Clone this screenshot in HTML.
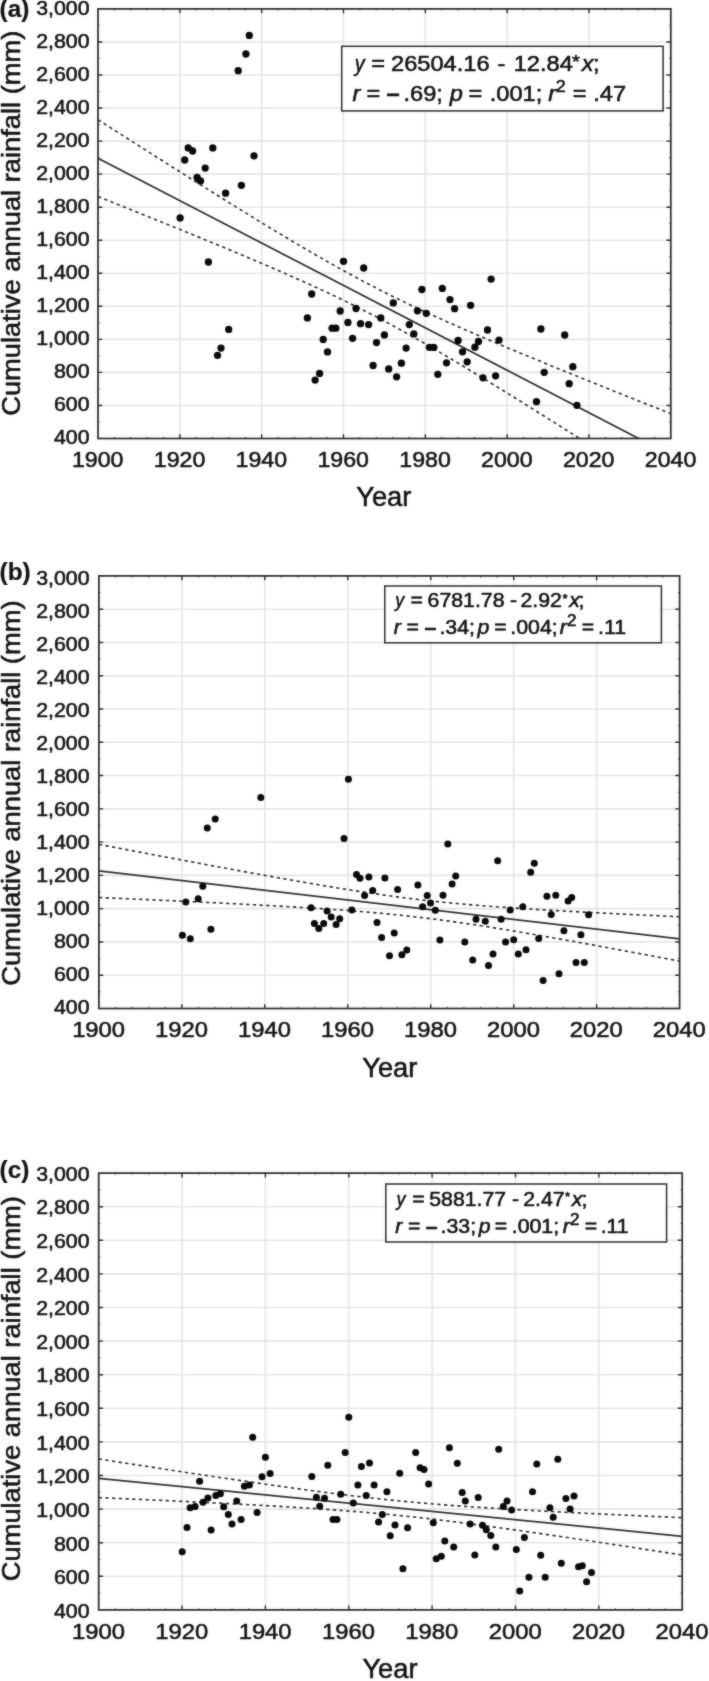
<!DOCTYPE html>
<html lang="en"><head><meta charset="utf-8"><title>Cumulative annual rainfall</title>
<style>html,body{margin:0;padding:0;background:#fff}svg{display:block}</style>
</head><body>
<svg width="709" height="1681" viewBox="0 0 709 1681" font-family="'Liberation Sans', sans-serif"><style>text{stroke:#111;stroke-width:.55px;stroke-linejoin:round}</style>
<rect width="709" height="1681" fill="#fff"/>
<filter id="soft" x="0" y="0" width="100%" height="100%" filterUnits="userSpaceOnUse" color-interpolation-filters="sRGB"><feGaussianBlur in="SourceGraphic" stdDeviation="0.8" result="b"/><feComposite in="SourceGraphic" in2="b" operator="arithmetic" k1="0" k2="0.6" k3="0.4" k4="0"/></filter>
<g filter="url(#soft)">
<path d="M179.83 8.9V438.5M261.66 8.9V438.5M343.49 8.9V438.5M425.31 8.9V438.5M507.14 8.9V438.5M588.97 8.9V438.5M98 405.45H670.8M98 372.41H670.8M98 339.36H670.8M98 306.32H670.8M98 273.27H670.8M98 240.22H670.8M98 207.18H670.8M98 174.13H670.8M98 141.08H670.8M98 108.04H670.8M98 74.99H670.8M98 41.95H670.8" stroke="#e5e5e5" stroke-width="1.6" fill="none"/>
<clipPath id="ca"><rect x="98" y="8.9" width="572.8" height="429.6"/></clipPath>
<g clip-path="url(#ca)" fill="none" stroke="#2e2e2e">
<path d="M98 158.16L670.8 455.18" stroke-width="1.75"/>
<path d="M98 119.7L107.55 125.8L117.09 131.9L126.64 137.99L136.19 144.07L145.73 150.14L155.28 156.2L164.83 162.25L174.37 168.29L183.92 174.32L193.47 180.34L203.01 186.33L212.56 192.32L222.11 198.28L231.65 204.22L241.2 210.13L250.75 216.01L260.29 221.87L269.84 227.68L279.39 233.45L288.93 239.18L298.48 244.84L308.03 250.45L317.57 255.99L327.12 261.45L336.67 266.82L346.21 272.1L355.76 277.28L365.31 282.36L374.85 287.33L384.4 292.2L393.95 296.96L403.49 301.62L413.04 306.18L422.59 310.65L432.13 315.05L441.68 319.37L451.23 323.62L460.77 327.82L470.32 331.97L479.87 336.07L489.41 340.13L498.96 344.16L508.51 348.16L518.05 352.13L527.6 356.08L537.15 360.01L546.69 363.91L556.24 367.81L565.79 371.68L575.33 375.55L584.88 379.4L594.43 383.24L603.97 387.08L613.52 390.9L623.07 394.72L632.61 398.53L642.16 402.33L651.71 406.13L661.25 409.92L670.8 413.7" stroke-width="1.65" stroke-dasharray="3.3 3.4"/>
<path d="M98 196.61L107.55 200.41L117.09 204.22L126.64 208.03L136.19 211.86L145.73 215.69L155.28 219.52L164.83 223.37L174.37 227.23L183.92 231.1L193.47 234.99L203.01 238.89L212.56 242.81L222.11 246.75L231.65 250.71L241.2 254.7L250.75 258.71L260.29 262.76L269.84 266.85L279.39 270.98L288.93 275.16L298.48 279.39L308.03 283.68L317.57 288.05L327.12 292.49L336.67 297.01L346.21 301.63L355.76 306.35L365.31 311.17L374.85 316.1L384.4 321.14L393.95 326.28L403.49 331.52L413.04 336.86L422.59 342.29L432.13 347.8L441.68 353.37L451.23 359.02L460.77 364.72L470.32 370.48L479.87 376.27L489.41 382.11L498.96 387.98L508.51 393.89L518.05 399.82L527.6 405.77L537.15 411.74L546.69 417.73L556.24 423.74L565.79 429.77L575.33 435.8L584.88 441.85L594.43 447.91L603.97 453.98L613.52 460.05L623.07 466.14L632.61 472.23L642.16 478.33L651.71 484.43L661.25 490.54L670.8 496.65" stroke-width="1.65" stroke-dasharray="3.3 3.4"/>
</g>
<path d="M179.83 438.5v-4.3M179.83 8.9v4.3M261.66 438.5v-4.3M261.66 8.9v4.3M343.49 438.5v-4.3M343.49 8.9v4.3M425.31 438.5v-4.3M425.31 8.9v4.3M507.14 438.5v-4.3M507.14 8.9v4.3M588.97 438.5v-4.3M588.97 8.9v4.3M98 405.45h4.3M670.8 405.45h-4.3M98 372.41h4.3M670.8 372.41h-4.3M98 339.36h4.3M670.8 339.36h-4.3M98 306.32h4.3M670.8 306.32h-4.3M98 273.27h4.3M670.8 273.27h-4.3M98 240.22h4.3M670.8 240.22h-4.3M98 207.18h4.3M670.8 207.18h-4.3M98 174.13h4.3M670.8 174.13h-4.3M98 141.08h4.3M670.8 141.08h-4.3M98 108.04h4.3M670.8 108.04h-4.3M98 74.99h4.3M670.8 74.99h-4.3M98 41.95h4.3M670.8 41.95h-4.3" stroke="#2a2a2a" stroke-width="1.4" fill="none"/>
<path d="M114.37 438.5v-1.6M114.37 8.9v1.6M130.73 438.5v-1.6M130.73 8.9v1.6M147.1 438.5v-1.6M147.1 8.9v1.6M163.46 438.5v-1.6M163.46 8.9v1.6M196.19 438.5v-1.6M196.19 8.9v1.6M212.56 438.5v-1.6M212.56 8.9v1.6M228.93 438.5v-1.6M228.93 8.9v1.6M245.29 438.5v-1.6M245.29 8.9v1.6M278.02 438.5v-1.6M278.02 8.9v1.6M294.39 438.5v-1.6M294.39 8.9v1.6M310.75 438.5v-1.6M310.75 8.9v1.6M327.12 438.5v-1.6M327.12 8.9v1.6M359.85 438.5v-1.6M359.85 8.9v1.6M376.22 438.5v-1.6M376.22 8.9v1.6M392.58 438.5v-1.6M392.58 8.9v1.6M408.95 438.5v-1.6M408.95 8.9v1.6M441.68 438.5v-1.6M441.68 8.9v1.6M458.05 438.5v-1.6M458.05 8.9v1.6M474.41 438.5v-1.6M474.41 8.9v1.6M490.78 438.5v-1.6M490.78 8.9v1.6M523.51 438.5v-1.6M523.51 8.9v1.6M539.87 438.5v-1.6M539.87 8.9v1.6M556.24 438.5v-1.6M556.24 8.9v1.6M572.61 438.5v-1.6M572.61 8.9v1.6M605.34 438.5v-1.6M605.34 8.9v1.6M621.7 438.5v-1.6M621.7 8.9v1.6M638.07 438.5v-1.6M638.07 8.9v1.6M654.43 438.5v-1.6M654.43 8.9v1.6M98 421.98h1.6M670.8 421.98h-1.6M98 388.93h1.6M670.8 388.93h-1.6M98 355.88h1.6M670.8 355.88h-1.6M98 322.84h1.6M670.8 322.84h-1.6M98 289.79h1.6M670.8 289.79h-1.6M98 256.75h1.6M670.8 256.75h-1.6M98 223.7h1.6M670.8 223.7h-1.6M98 190.65h1.6M670.8 190.65h-1.6M98 157.61h1.6M670.8 157.61h-1.6M98 124.56h1.6M670.8 124.56h-1.6M98 91.52h1.6M670.8 91.52h-1.6M98 58.47h1.6M670.8 58.47h-1.6M98 25.42h1.6M670.8 25.42h-1.6" stroke="#3a3a3a" stroke-width="1" fill="none"/>
<rect x="98" y="8.9" width="572.8" height="429.6" fill="none" stroke="#2c2c2c" stroke-width="1.75"/>
<g fill="#080808"><circle cx="180.1" cy="217.9" r="3.65"/><circle cx="184.7" cy="160" r="3.65"/><circle cx="188.2" cy="147.9" r="3.65"/><circle cx="192.6" cy="151" r="3.65"/><circle cx="197.1" cy="177.4" r="3.65"/><circle cx="200.5" cy="180.9" r="3.65"/><circle cx="205.2" cy="168.1" r="3.65"/><circle cx="208.4" cy="262" r="3.65"/><circle cx="212.8" cy="147.9" r="3.65"/><circle cx="217.5" cy="355.3" r="3.65"/><circle cx="221" cy="348.1" r="3.65"/><circle cx="225.6" cy="193.2" r="3.65"/><circle cx="228.7" cy="329.4" r="3.65"/><circle cx="238.2" cy="70.7" r="3.65"/><circle cx="241.4" cy="185.3" r="3.65"/><circle cx="245.9" cy="54" r="3.65"/><circle cx="249.3" cy="35.4" r="3.65"/><circle cx="254" cy="155.8" r="3.65"/><circle cx="343.5" cy="261.3" r="3.65"/><circle cx="363.7" cy="268" r="3.65"/><circle cx="311.7" cy="294" r="3.65"/><circle cx="307.4" cy="317.9" r="3.65"/><circle cx="340.2" cy="311" r="3.65"/><circle cx="356" cy="308.5" r="3.65"/><circle cx="347.9" cy="322.5" r="3.65"/><circle cx="360.5" cy="323.7" r="3.65"/><circle cx="368.6" cy="324.6" r="3.65"/><circle cx="332.1" cy="328.2" r="3.65"/><circle cx="335.8" cy="328.2" r="3.65"/><circle cx="323.2" cy="339.5" r="3.65"/><circle cx="352.6" cy="338.3" r="3.65"/><circle cx="327.5" cy="351.9" r="3.65"/><circle cx="319.6" cy="373.4" r="3.65"/><circle cx="315.1" cy="380.1" r="3.65"/><circle cx="380.8" cy="317.9" r="3.65"/><circle cx="384.4" cy="334.9" r="3.65"/><circle cx="376.5" cy="342.6" r="3.65"/><circle cx="373.1" cy="365.5" r="3.65"/><circle cx="388.7" cy="368.9" r="3.65"/><circle cx="396.6" cy="376.8" r="3.65"/><circle cx="401.4" cy="363.2" r="3.65"/><circle cx="406.1" cy="348.1" r="3.65"/><circle cx="413.8" cy="333.9" r="3.65"/><circle cx="409.3" cy="324.6" r="3.65"/><circle cx="393.3" cy="302.9" r="3.65"/><circle cx="417.4" cy="310.8" r="3.65"/><circle cx="421.9" cy="289.5" r="3.65"/><circle cx="426.3" cy="313.3" r="3.65"/><circle cx="429.4" cy="347.3" r="3.65"/><circle cx="442.3" cy="288.4" r="3.65"/><circle cx="450" cy="299.6" r="3.65"/><circle cx="454.6" cy="308.7" r="3.65"/><circle cx="470.6" cy="305.3" r="3.65"/><circle cx="491.1" cy="279.1" r="3.65"/><circle cx="487.5" cy="330" r="3.65"/><circle cx="499" cy="340.1" r="3.65"/><circle cx="458.1" cy="340.5" r="3.65"/><circle cx="478.5" cy="341.5" r="3.65"/><circle cx="474.9" cy="347.2" r="3.65"/><circle cx="433.8" cy="347.4" r="3.65"/><circle cx="462.5" cy="351.8" r="3.65"/><circle cx="467.2" cy="361.8" r="3.65"/><circle cx="446.5" cy="362.8" r="3.65"/><circle cx="437.8" cy="374.3" r="3.65"/><circle cx="483" cy="377.8" r="3.65"/><circle cx="495.6" cy="375.8" r="3.65"/><circle cx="540.9" cy="329" r="3.65"/><circle cx="544.2" cy="372.3" r="3.65"/><circle cx="536.5" cy="401.7" r="3.65"/><circle cx="564.7" cy="335" r="3.65"/><circle cx="572.8" cy="366.7" r="3.65"/><circle cx="569.2" cy="383.7" r="3.65"/><circle cx="576.9" cy="405.3" r="3.65"/></g>
<g font-size="20.0" text-anchor="end" fill="#111">
<text transform="translate(89.5 444.4) scale(1.065 1)">400</text>
<text transform="translate(89.5 410.6) scale(1.065 1)">600</text>
<text transform="translate(89.5 377.65) scale(1.065 1)">800</text>
<text transform="translate(89.5 344.7) scale(1.065 1)">1,000</text>
<text transform="translate(89.5 311.75) scale(1.065 1)">1,200</text>
<text transform="translate(89.5 278.8) scale(1.065 1)">1,400</text>
<text transform="translate(89.5 245.85) scale(1.065 1)">1,600</text>
<text transform="translate(89.5 212.9) scale(1.065 1)">1,800</text>
<text transform="translate(89.5 179.95) scale(1.065 1)">2,000</text>
<text transform="translate(89.5 147) scale(1.065 1)">2,200</text>
<text transform="translate(89.5 114.05) scale(1.065 1)">2,400</text>
<text transform="translate(89.5 81.1) scale(1.065 1)">2,600</text>
<text transform="translate(89.5 48.15) scale(1.065 1)">2,800</text>
<text transform="translate(89.5 15.2) scale(1.065 1)">3,000</text>
</g>
<g font-size="22.6" text-anchor="middle" fill="#111">
<text transform="translate(97.7 466.7) scale(1.025 1)">1900</text>
<text transform="translate(179.53 466.7) scale(1.025 1)">1920</text>
<text transform="translate(261.36 466.7) scale(1.025 1)">1940</text>
<text transform="translate(343.19 466.7) scale(1.025 1)">1960</text>
<text transform="translate(425.01 466.7) scale(1.025 1)">1980</text>
<text transform="translate(506.84 466.7) scale(1.025 1)">2000</text>
<text transform="translate(588.67 466.7) scale(1.025 1)">2020</text>
<text transform="translate(670.5 466.7) scale(1.025 1)">2040</text>
</g>
<text x="383.8" y="506.4" font-size="27.3" text-anchor="middle" fill="#111">Year</text>
<text transform="translate(20.3 223.25) rotate(-90) scale(1.054 1)" font-size="25.9" text-anchor="middle" fill="#111">Cumulative annual rainfall (mm)</text>
<text transform="translate(-0.4 16.9) scale(1.06 1)" font-size="23" font-weight="bold" fill="#111" style="stroke-width:.2px">(a)</text>
<rect x="341.7" y="46.3" width="321.4" height="64.6" fill="#fff" stroke="#2a2a2a" stroke-width="1.5"/>
<g font-size="22" fill="#111">
<text transform="translate(354.82 70.5) scale(0.9 1)" font-style="italic">y</text>
<text transform="translate(371.35 70.5) scale(1.075 1)">=</text>
<text transform="translate(391.01 70.5) scale(1.075 1)">26504.16</text>
<text transform="translate(497.55 70.5) scale(1.075 1)">-</text>
<text transform="translate(513.7 70.5) scale(1.075 1)">12.84</text>
<text transform="translate(571.88 68.45) scale(1.075 1)" font-size="18.7">*</text>
<text transform="translate(581.85 70.5) scale(1.075 1)" font-style="italic">x</text>
<text transform="translate(592.88 70.5) scale(1.075 1)">;</text>
<text transform="translate(352.41 100.5) scale(1.075 1)" font-style="italic">r</text>
<text transform="translate(366.45 100.5) scale(1.075 1)">=</text>
<text transform="translate(386.58 100.5) scale(1.075 1)" font-weight="bold">–</text>
<text transform="translate(403.44 100.5) scale(1.075 1)">.69;</text>
<text transform="translate(449.79 100.5) scale(1.075 1)" font-style="italic">p</text>
<text transform="translate(468.45 100.5) scale(1.075 1)">=</text>
<text transform="translate(489.74 100.5) scale(1.075 1)">.001;</text>
<text transform="translate(548.31 100.5) scale(1.075 1)" font-style="italic">r</text>
<text transform="translate(555.7 91.92) scale(1.075 1)" font-size="16.72">2</text>
<text transform="translate(572.75 100.5) scale(1.075 1)">=</text>
<text transform="translate(593.24 100.5) scale(1.075 1)">.47</text>
</g>
<path d="M181.86 575.9V1008.5M264.81 575.9V1008.5M347.77 575.9V1008.5M430.73 575.9V1008.5M513.69 575.9V1008.5M596.64 575.9V1008.5M98.9 975.22H679.6M98.9 941.95H679.6M98.9 908.67H679.6M98.9 875.39H679.6M98.9 842.12H679.6M98.9 808.84H679.6M98.9 775.56H679.6M98.9 742.28H679.6M98.9 709.01H679.6M98.9 675.73H679.6M98.9 642.45H679.6M98.9 609.18H679.6" stroke="#e5e5e5" stroke-width="1.6" fill="none"/>
<clipPath id="cb"><rect x="98.9" y="575.9" width="580.7" height="432.6"/></clipPath>
<g clip-path="url(#cb)" fill="none" stroke="#2e2e2e">
<path d="M98.9 870.92L679.6 938.94" stroke-width="1.75"/>
<path d="M98.9 844.33L108.58 846.18L118.26 848.02L127.94 849.86L137.61 851.7L147.29 853.53L156.97 855.37L166.65 857.19L176.33 859.02L186 860.83L195.68 862.65L205.36 864.45L215.04 866.25L224.72 868.04L234.4 869.83L244.08 871.6L253.75 873.37L263.43 875.12L273.11 876.86L282.79 878.59L292.47 880.3L302.14 881.99L311.82 883.65L321.5 885.3L331.18 886.91L340.86 888.49L350.54 890.04L360.22 891.55L369.89 893.01L379.57 894.42L389.25 895.78L398.93 897.08L408.61 898.32L418.29 899.49L427.96 900.6L437.64 901.64L447.32 902.62L457 903.55L466.68 904.42L476.36 905.23L486.03 906L495.71 906.73L505.39 907.42L515.07 908.08L524.75 908.71L534.43 909.32L544.1 909.9L553.78 910.46L563.46 911.01L573.14 911.54L582.82 912.06L592.5 912.56L602.17 913.06L611.85 913.54L621.53 914.02L631.21 914.49L640.89 914.95L650.57 915.41L660.24 915.86L669.92 916.3L679.6 916.74" stroke-width="1.65" stroke-dasharray="3.3 3.4"/>
<path d="M98.9 897.51L108.58 897.94L118.26 898.36L127.94 898.78L137.61 899.21L147.29 899.65L156.97 900.08L166.65 900.52L176.33 900.97L186 901.42L195.68 901.87L205.36 902.33L215.04 902.8L224.72 903.27L234.4 903.76L244.08 904.25L253.75 904.75L263.43 905.26L273.11 905.79L282.79 906.33L292.47 906.89L302.14 907.47L311.82 908.07L321.5 908.69L331.18 909.35L340.86 910.03L350.54 910.75L360.22 911.51L369.89 912.32L379.57 913.17L389.25 914.08L398.93 915.05L408.61 916.08L418.29 917.17L427.96 918.33L437.64 919.56L447.32 920.84L457 922.18L466.68 923.58L476.36 925.04L486.03 926.53L495.71 928.07L505.39 929.65L515.07 931.25L524.75 932.89L534.43 934.55L544.1 936.24L553.78 937.94L563.46 939.66L573.14 941.4L582.82 943.15L592.5 944.91L602.17 946.69L611.85 948.47L621.53 950.26L631.21 952.06L640.89 953.86L650.57 955.67L660.24 957.49L669.92 959.31L679.6 961.14" stroke-width="1.65" stroke-dasharray="3.3 3.4"/>
</g>
<path d="M181.86 1008.5v-4.3M181.86 575.9v4.3M264.81 1008.5v-4.3M264.81 575.9v4.3M347.77 1008.5v-4.3M347.77 575.9v4.3M430.73 1008.5v-4.3M430.73 575.9v4.3M513.69 1008.5v-4.3M513.69 575.9v4.3M596.64 1008.5v-4.3M596.64 575.9v4.3M98.9 975.22h4.3M679.6 975.22h-4.3M98.9 941.95h4.3M679.6 941.95h-4.3M98.9 908.67h4.3M679.6 908.67h-4.3M98.9 875.39h4.3M679.6 875.39h-4.3M98.9 842.12h4.3M679.6 842.12h-4.3M98.9 808.84h4.3M679.6 808.84h-4.3M98.9 775.56h4.3M679.6 775.56h-4.3M98.9 742.28h4.3M679.6 742.28h-4.3M98.9 709.01h4.3M679.6 709.01h-4.3M98.9 675.73h4.3M679.6 675.73h-4.3M98.9 642.45h4.3M679.6 642.45h-4.3M98.9 609.18h4.3M679.6 609.18h-4.3" stroke="#2a2a2a" stroke-width="1.4" fill="none"/>
<path d="M115.49 1008.5v-1.6M115.49 575.9v1.6M132.08 1008.5v-1.6M132.08 575.9v1.6M148.67 1008.5v-1.6M148.67 575.9v1.6M165.27 1008.5v-1.6M165.27 575.9v1.6M198.45 1008.5v-1.6M198.45 575.9v1.6M215.04 1008.5v-1.6M215.04 575.9v1.6M231.63 1008.5v-1.6M231.63 575.9v1.6M248.22 1008.5v-1.6M248.22 575.9v1.6M281.41 1008.5v-1.6M281.41 575.9v1.6M298 1008.5v-1.6M298 575.9v1.6M314.59 1008.5v-1.6M314.59 575.9v1.6M331.18 1008.5v-1.6M331.18 575.9v1.6M364.36 1008.5v-1.6M364.36 575.9v1.6M380.95 1008.5v-1.6M380.95 575.9v1.6M397.55 1008.5v-1.6M397.55 575.9v1.6M414.14 1008.5v-1.6M414.14 575.9v1.6M447.32 1008.5v-1.6M447.32 575.9v1.6M463.91 1008.5v-1.6M463.91 575.9v1.6M480.5 1008.5v-1.6M480.5 575.9v1.6M497.09 1008.5v-1.6M497.09 575.9v1.6M530.28 1008.5v-1.6M530.28 575.9v1.6M546.87 1008.5v-1.6M546.87 575.9v1.6M563.46 1008.5v-1.6M563.46 575.9v1.6M580.05 1008.5v-1.6M580.05 575.9v1.6M613.23 1008.5v-1.6M613.23 575.9v1.6M629.83 1008.5v-1.6M629.83 575.9v1.6M646.42 1008.5v-1.6M646.42 575.9v1.6M663.01 1008.5v-1.6M663.01 575.9v1.6M98.9 991.86h1.6M679.6 991.86h-1.6M98.9 958.58h1.6M679.6 958.58h-1.6M98.9 925.31h1.6M679.6 925.31h-1.6M98.9 892.03h1.6M679.6 892.03h-1.6M98.9 858.75h1.6M679.6 858.75h-1.6M98.9 825.48h1.6M679.6 825.48h-1.6M98.9 792.2h1.6M679.6 792.2h-1.6M98.9 758.92h1.6M679.6 758.92h-1.6M98.9 725.65h1.6M679.6 725.65h-1.6M98.9 692.37h1.6M679.6 692.37h-1.6M98.9 659.09h1.6M679.6 659.09h-1.6M98.9 625.82h1.6M679.6 625.82h-1.6M98.9 592.54h1.6M679.6 592.54h-1.6" stroke="#3a3a3a" stroke-width="1" fill="none"/>
<rect x="98.9" y="575.9" width="580.7" height="432.6" fill="none" stroke="#2c2c2c" stroke-width="1.75"/>
<g fill="#080808"><circle cx="182.4" cy="935.2" r="3.5"/><circle cx="185.8" cy="902.1" r="3.5"/><circle cx="190.3" cy="938.7" r="3.5"/><circle cx="198.2" cy="898.8" r="3.5"/><circle cx="202.8" cy="886.2" r="3.5"/><circle cx="207.3" cy="828" r="3.5"/><circle cx="210.9" cy="929.2" r="3.5"/><circle cx="215.2" cy="818.9" r="3.5"/><circle cx="260.8" cy="797.4" r="3.5"/><circle cx="348.4" cy="779.2" r="3.5"/><circle cx="344" cy="838.4" r="3.5"/><circle cx="356.5" cy="874.6" r="3.5"/><circle cx="360" cy="878.2" r="3.5"/><circle cx="368.9" cy="877.1" r="3.5"/><circle cx="384.9" cy="878.1" r="3.5"/><circle cx="417.9" cy="885" r="3.5"/><circle cx="372.7" cy="890.5" r="3.5"/><circle cx="397.6" cy="889.5" r="3.5"/><circle cx="364.6" cy="895.4" r="3.5"/><circle cx="427.2" cy="895.4" r="3.5"/><circle cx="430.5" cy="903" r="3.5"/><circle cx="422.6" cy="906.8" r="3.5"/><circle cx="435.3" cy="910.2" r="3.5"/><circle cx="311.1" cy="907.7" r="3.5"/><circle cx="351.9" cy="910" r="3.5"/><circle cx="327.1" cy="911.1" r="3.5"/><circle cx="331.2" cy="916.9" r="3.5"/><circle cx="339.7" cy="918.8" r="3.5"/><circle cx="314.4" cy="923.6" r="3.5"/><circle cx="323.7" cy="923.6" r="3.5"/><circle cx="336.1" cy="924.6" r="3.5"/><circle cx="318.8" cy="928.5" r="3.5"/><circle cx="377" cy="922.6" r="3.5"/><circle cx="394.2" cy="932.9" r="3.5"/><circle cx="381.6" cy="937.4" r="3.5"/><circle cx="406.8" cy="950" r="3.5"/><circle cx="401.9" cy="954.8" r="3.5"/><circle cx="389.5" cy="955.8" r="3.5"/><circle cx="447.8" cy="843.9" r="3.5"/><circle cx="497.7" cy="860.7" r="3.5"/><circle cx="534.3" cy="863.3" r="3.5"/><circle cx="530.7" cy="872.2" r="3.5"/><circle cx="455.7" cy="875.9" r="3.5"/><circle cx="452.1" cy="884" r="3.5"/><circle cx="443" cy="895.3" r="3.5"/><circle cx="546.9" cy="896.3" r="3.5"/><circle cx="555.8" cy="895.3" r="3.5"/><circle cx="522.8" cy="906.7" r="3.5"/><circle cx="510.2" cy="909.9" r="3.5"/><circle cx="551.2" cy="914.6" r="3.5"/><circle cx="501.1" cy="919.2" r="3.5"/><circle cx="476" cy="919.2" r="3.5"/><circle cx="485.3" cy="921.2" r="3.5"/><circle cx="563.9" cy="930.7" r="3.5"/><circle cx="439.9" cy="939.9" r="3.5"/><circle cx="464.8" cy="941.9" r="3.5"/><circle cx="513.7" cy="939.7" r="3.5"/><circle cx="505.6" cy="941.9" r="3.5"/><circle cx="538.7" cy="938.4" r="3.5"/><circle cx="526" cy="949.8" r="3.5"/><circle cx="518.3" cy="954.1" r="3.5"/><circle cx="493" cy="954.1" r="3.5"/><circle cx="472.7" cy="959.9" r="3.5"/><circle cx="488.5" cy="965.6" r="3.5"/><circle cx="559" cy="973.8" r="3.5"/><circle cx="543.1" cy="980.6" r="3.5"/><circle cx="568.1" cy="901" r="3.5"/><circle cx="571.7" cy="897.4" r="3.5"/><circle cx="588.6" cy="914.8" r="3.5"/><circle cx="580.9" cy="934.8" r="3.5"/><circle cx="576" cy="962.4" r="3.5"/><circle cx="584.3" cy="962.4" r="3.5"/></g>
<g font-size="20.0" text-anchor="end" fill="#111">
<text transform="translate(89.5 1014.4) scale(1.065 1)">400</text>
<text transform="translate(89.5 980.6) scale(1.065 1)">600</text>
<text transform="translate(89.5 947.61) scale(1.065 1)">800</text>
<text transform="translate(89.5 914.62) scale(1.065 1)">1,000</text>
<text transform="translate(89.5 881.62) scale(1.065 1)">1,200</text>
<text transform="translate(89.5 848.63) scale(1.065 1)">1,400</text>
<text transform="translate(89.5 815.64) scale(1.065 1)">1,600</text>
<text transform="translate(89.5 782.65) scale(1.065 1)">1,800</text>
<text transform="translate(89.5 749.66) scale(1.065 1)">2,000</text>
<text transform="translate(89.5 716.67) scale(1.065 1)">2,200</text>
<text transform="translate(89.5 683.68) scale(1.065 1)">2,400</text>
<text transform="translate(89.5 650.68) scale(1.065 1)">2,600</text>
<text transform="translate(89.5 617.69) scale(1.065 1)">2,800</text>
<text transform="translate(89.5 584.7) scale(1.065 1)">3,000</text>
</g>
<g font-size="22.8" text-anchor="middle" fill="#111">
<text transform="translate(98.6 1037.4) scale(1.045 1)">1900</text>
<text transform="translate(181.56 1037.4) scale(1.045 1)">1920</text>
<text transform="translate(264.51 1037.4) scale(1.045 1)">1940</text>
<text transform="translate(347.47 1037.4) scale(1.045 1)">1960</text>
<text transform="translate(430.43 1037.4) scale(1.045 1)">1980</text>
<text transform="translate(513.39 1037.4) scale(1.045 1)">2000</text>
<text transform="translate(596.34 1037.4) scale(1.045 1)">2020</text>
<text transform="translate(679.3 1037.4) scale(1.045 1)">2040</text>
</g>
<text x="389.8" y="1076.5" font-size="27.3" text-anchor="middle" fill="#111">Year</text>
<text transform="translate(20.3 793.1) rotate(-90) scale(1.054 1)" font-size="25.9" text-anchor="middle" fill="#111">Cumulative annual rainfall (mm)</text>
<text transform="translate(-0.4 579.7) scale(1.06 1)" font-size="23" font-weight="bold" fill="#111" style="stroke-width:.2px">(b)</text>
<rect x="384.8" y="586.0" width="276.6" height="56.8" fill="#fff" stroke="#2a2a2a" stroke-width="1.5"/>
<g font-size="19.8" fill="#111">
<text transform="translate(395.21 607.2) scale(0.9 1)" font-style="italic">y</text>
<text transform="translate(410.46 607.2) scale(1.075 1)">=</text>
<text transform="translate(427.62 607.2) scale(1.075 1)">6781.78</text>
<text transform="translate(509.95 607.2) scale(1.075 1)">-</text>
<text transform="translate(520.43 607.2) scale(1.075 1)">2.92</text>
<text transform="translate(562.49 602.54) scale(1.075 1)" font-size="12.28">*</text>
<text transform="translate(569.15 607.2) scale(1.075 1)" font-style="italic">x</text>
<text transform="translate(578.39 607.2) scale(1.075 1)">;</text>
<text transform="translate(393.85 633.9) scale(1.075 1)" font-style="italic">r</text>
<text transform="translate(406.56 633.9) scale(1.075 1)">=</text>
<text transform="translate(424.56 633.9) scale(1.075 1)" font-weight="bold">–</text>
<text transform="translate(439.46 633.9) scale(1.075 1)">.34;</text>
<text transform="translate(477.43 633.9) scale(1.075 1)" font-style="italic">p</text>
<text transform="translate(494.36 633.9) scale(1.075 1)">=</text>
<text transform="translate(510.36 633.9) scale(1.075 1)">.004;</text>
<text transform="translate(559.75 633.9) scale(1.075 1)" font-style="italic">r</text>
<text transform="translate(566.94 626.18) scale(1.075 1)" font-size="15.84">2</text>
<text transform="translate(581.76 633.9) scale(1.075 1)">=</text>
<text transform="translate(598.06 633.9) scale(1.075 1)">.11</text>
</g>
<path d="M182.06 1173.1V1609.9M265.41 1173.1V1609.9M348.77 1173.1V1609.9M432.13 1173.1V1609.9M515.49 1173.1V1609.9M598.84 1173.1V1609.9M98.7 1576.3H682.2M98.7 1542.7H682.2M98.7 1509.1H682.2M98.7 1475.5H682.2M98.7 1441.9H682.2M98.7 1408.3H682.2M98.7 1374.7H682.2M98.7 1341.1H682.2M98.7 1307.5H682.2M98.7 1273.9H682.2M98.7 1240.3H682.2M98.7 1206.7H682.2" stroke="#e5e5e5" stroke-width="1.6" fill="none"/>
<clipPath id="cc"><rect x="98.7" y="1173.1" width="583.5" height="436.8"/></clipPath>
<g clip-path="url(#cc)" fill="none" stroke="#2e2e2e">
<path d="M98.7 1478.29L682.2 1536.38" stroke-width="1.75"/>
<path d="M98.7 1459.01L108.42 1460.51L118.15 1462.02L127.88 1463.52L137.6 1465.02L147.32 1466.51L157.05 1468L166.78 1469.49L176.5 1470.97L186.23 1472.45L195.95 1473.92L205.68 1475.38L215.4 1476.84L225.12 1478.29L234.85 1479.73L244.57 1481.16L254.3 1482.57L264.02 1483.98L273.75 1485.37L283.48 1486.74L293.2 1488.1L302.93 1489.43L312.65 1490.74L322.38 1492.03L332.1 1493.29L341.82 1494.51L351.55 1495.7L361.27 1496.85L371 1497.95L380.72 1499.02L390.45 1500.04L400.18 1501.01L409.9 1501.93L419.62 1502.81L429.35 1503.65L439.07 1504.44L448.8 1505.2L458.52 1505.92L468.25 1506.6L477.97 1507.26L487.7 1507.89L497.43 1508.49L507.15 1509.08L516.88 1509.64L526.6 1510.19L536.33 1510.72L546.05 1511.24L555.77 1511.75L565.5 1512.25L575.23 1512.74L584.95 1513.22L594.68 1513.7L604.4 1514.16L614.12 1514.62L623.85 1515.08L633.58 1515.53L643.3 1515.98L653.03 1516.42L662.75 1516.86L672.48 1517.29L682.2 1517.73" stroke-width="1.65" stroke-dasharray="3.3 3.4"/>
<path d="M98.7 1497.57L108.42 1498L118.15 1498.43L127.88 1498.86L137.6 1499.3L147.32 1499.74L157.05 1500.19L166.78 1500.64L176.5 1501.09L186.23 1501.55L195.95 1502.02L205.68 1502.49L215.4 1502.97L225.12 1503.46L234.85 1503.96L244.57 1504.46L254.3 1504.98L264.02 1505.52L273.75 1506.06L283.48 1506.62L293.2 1507.2L302.93 1507.81L312.65 1508.43L322.38 1509.08L332.1 1509.76L341.82 1510.48L351.55 1511.22L361.27 1512.01L371 1512.84L380.72 1513.71L390.45 1514.63L400.18 1515.6L409.9 1516.61L419.62 1517.66L429.35 1518.76L439.07 1519.91L448.8 1521.09L458.52 1522.31L468.25 1523.56L477.97 1524.84L487.7 1526.15L497.43 1527.48L507.15 1528.83L516.88 1530.2L526.6 1531.59L536.33 1532.99L546.05 1534.41L555.77 1535.83L565.5 1537.27L575.23 1538.72L584.95 1540.17L594.68 1541.64L604.4 1543.11L614.12 1544.58L623.85 1546.06L633.58 1547.55L643.3 1549.04L653.03 1550.53L662.75 1552.03L672.48 1553.53L682.2 1555.04" stroke-width="1.65" stroke-dasharray="3.3 3.4"/>
</g>
<path d="M182.06 1609.9v-4.3M182.06 1173.1v4.3M265.41 1609.9v-4.3M265.41 1173.1v4.3M348.77 1609.9v-4.3M348.77 1173.1v4.3M432.13 1609.9v-4.3M432.13 1173.1v4.3M515.49 1609.9v-4.3M515.49 1173.1v4.3M598.84 1609.9v-4.3M598.84 1173.1v4.3M98.7 1576.3h4.3M682.2 1576.3h-4.3M98.7 1542.7h4.3M682.2 1542.7h-4.3M98.7 1509.1h4.3M682.2 1509.1h-4.3M98.7 1475.5h4.3M682.2 1475.5h-4.3M98.7 1441.9h4.3M682.2 1441.9h-4.3M98.7 1408.3h4.3M682.2 1408.3h-4.3M98.7 1374.7h4.3M682.2 1374.7h-4.3M98.7 1341.1h4.3M682.2 1341.1h-4.3M98.7 1307.5h4.3M682.2 1307.5h-4.3M98.7 1273.9h4.3M682.2 1273.9h-4.3M98.7 1240.3h4.3M682.2 1240.3h-4.3M98.7 1206.7h4.3M682.2 1206.7h-4.3" stroke="#2a2a2a" stroke-width="1.4" fill="none"/>
<path d="M115.37 1609.9v-1.6M115.37 1173.1v1.6M132.04 1609.9v-1.6M132.04 1173.1v1.6M148.71 1609.9v-1.6M148.71 1173.1v1.6M165.39 1609.9v-1.6M165.39 1173.1v1.6M198.73 1609.9v-1.6M198.73 1173.1v1.6M215.4 1609.9v-1.6M215.4 1173.1v1.6M232.07 1609.9v-1.6M232.07 1173.1v1.6M248.74 1609.9v-1.6M248.74 1173.1v1.6M282.09 1609.9v-1.6M282.09 1173.1v1.6M298.76 1609.9v-1.6M298.76 1173.1v1.6M315.43 1609.9v-1.6M315.43 1173.1v1.6M332.1 1609.9v-1.6M332.1 1173.1v1.6M365.44 1609.9v-1.6M365.44 1173.1v1.6M382.11 1609.9v-1.6M382.11 1173.1v1.6M398.79 1609.9v-1.6M398.79 1173.1v1.6M415.46 1609.9v-1.6M415.46 1173.1v1.6M448.8 1609.9v-1.6M448.8 1173.1v1.6M465.47 1609.9v-1.6M465.47 1173.1v1.6M482.14 1609.9v-1.6M482.14 1173.1v1.6M498.81 1609.9v-1.6M498.81 1173.1v1.6M532.16 1609.9v-1.6M532.16 1173.1v1.6M548.83 1609.9v-1.6M548.83 1173.1v1.6M565.5 1609.9v-1.6M565.5 1173.1v1.6M582.17 1609.9v-1.6M582.17 1173.1v1.6M615.51 1609.9v-1.6M615.51 1173.1v1.6M632.19 1609.9v-1.6M632.19 1173.1v1.6M648.86 1609.9v-1.6M648.86 1173.1v1.6M665.53 1609.9v-1.6M665.53 1173.1v1.6M98.7 1593.1h1.6M682.2 1593.1h-1.6M98.7 1559.5h1.6M682.2 1559.5h-1.6M98.7 1525.9h1.6M682.2 1525.9h-1.6M98.7 1492.3h1.6M682.2 1492.3h-1.6M98.7 1458.7h1.6M682.2 1458.7h-1.6M98.7 1425.1h1.6M682.2 1425.1h-1.6M98.7 1391.5h1.6M682.2 1391.5h-1.6M98.7 1357.9h1.6M682.2 1357.9h-1.6M98.7 1324.3h1.6M682.2 1324.3h-1.6M98.7 1290.7h1.6M682.2 1290.7h-1.6M98.7 1257.1h1.6M682.2 1257.1h-1.6M98.7 1223.5h1.6M682.2 1223.5h-1.6M98.7 1189.9h1.6M682.2 1189.9h-1.6" stroke="#3a3a3a" stroke-width="1" fill="none"/>
<rect x="98.7" y="1173.1" width="583.5" height="436.8" fill="none" stroke="#2c2c2c" stroke-width="1.75"/>
<g fill="#080808"><circle cx="252.7" cy="1437.3" r="3.5"/><circle cx="265.4" cy="1457.3" r="3.5"/><circle cx="270.1" cy="1473.5" r="3.5"/><circle cx="262" cy="1476.8" r="3.5"/><circle cx="199.6" cy="1481.2" r="3.5"/><circle cx="249.4" cy="1484.9" r="3.5"/><circle cx="244.4" cy="1486.3" r="3.5"/><circle cx="220.4" cy="1493.8" r="3.5"/><circle cx="215.8" cy="1495.6" r="3.5"/><circle cx="207.9" cy="1498.1" r="3.5"/><circle cx="203" cy="1502.3" r="3.5"/><circle cx="236.7" cy="1500.9" r="3.5"/><circle cx="195.1" cy="1506.6" r="3.5"/><circle cx="190.1" cy="1507.8" r="3.5"/><circle cx="223.7" cy="1506.8" r="3.5"/><circle cx="228.3" cy="1514.5" r="3.5"/><circle cx="257.1" cy="1512.6" r="3.5"/><circle cx="241.1" cy="1519.5" r="3.5"/><circle cx="232" cy="1524" r="3.5"/><circle cx="187" cy="1527.6" r="3.5"/><circle cx="211.1" cy="1529.9" r="3.5"/><circle cx="182.2" cy="1551.8" r="3.5"/><circle cx="348.8" cy="1417.2" r="3.5"/><circle cx="345.2" cy="1452.5" r="3.5"/><circle cx="415.7" cy="1452.5" r="3.5"/><circle cx="327.8" cy="1465.2" r="3.5"/><circle cx="369.5" cy="1463" r="3.5"/><circle cx="361.4" cy="1466.5" r="3.5"/><circle cx="420.1" cy="1467.7" r="3.5"/><circle cx="424" cy="1469.5" r="3.5"/><circle cx="399.7" cy="1473.3" r="3.5"/><circle cx="311.8" cy="1476.6" r="3.5"/><circle cx="428.6" cy="1483.9" r="3.5"/><circle cx="357.9" cy="1484.9" r="3.5"/><circle cx="374.1" cy="1484.9" r="3.5"/><circle cx="386.9" cy="1491.8" r="3.5"/><circle cx="340.7" cy="1494.2" r="3.5"/><circle cx="366.2" cy="1495.6" r="3.5"/><circle cx="316.4" cy="1497.2" r="3.5"/><circle cx="324.5" cy="1498.3" r="3.5"/><circle cx="353.3" cy="1503.1" r="3.5"/><circle cx="319.7" cy="1506.2" r="3.5"/><circle cx="382.3" cy="1514.5" r="3.5"/><circle cx="333" cy="1519.5" r="3.5"/><circle cx="336.9" cy="1519.5" r="3.5"/><circle cx="378.6" cy="1522" r="3.5"/><circle cx="395" cy="1525" r="3.5"/><circle cx="433.3" cy="1522.8" r="3.5"/><circle cx="407.6" cy="1527.8" r="3.5"/><circle cx="390.2" cy="1535.7" r="3.5"/><circle cx="402.9" cy="1568.7" r="3.5"/><circle cx="436.3" cy="1558.8" r="3.5"/><circle cx="449.4" cy="1447.8" r="3.5"/><circle cx="498.7" cy="1449.2" r="3.5"/><circle cx="457.3" cy="1463.2" r="3.5"/><circle cx="557.8" cy="1459.2" r="3.5"/><circle cx="536.8" cy="1464" r="3.5"/><circle cx="462.2" cy="1492.6" r="3.5"/><circle cx="532.5" cy="1491.8" r="3.5"/><circle cx="478.2" cy="1497.4" r="3.5"/><circle cx="465.3" cy="1501.1" r="3.5"/><circle cx="507" cy="1501.1" r="3.5"/><circle cx="503.3" cy="1506.6" r="3.5"/><circle cx="511.6" cy="1510" r="3.5"/><circle cx="565.9" cy="1498.5" r="3.5"/><circle cx="549.9" cy="1507.7" r="3.5"/><circle cx="570.1" cy="1509" r="3.5"/><circle cx="553.2" cy="1517.2" r="3.5"/><circle cx="470.1" cy="1524" r="3.5"/><circle cx="482.5" cy="1525.2" r="3.5"/><circle cx="486.3" cy="1529.7" r="3.5"/><circle cx="490.8" cy="1535.5" r="3.5"/><circle cx="524.4" cy="1537.6" r="3.5"/><circle cx="444.8" cy="1541.1" r="3.5"/><circle cx="453.7" cy="1547" r="3.5"/><circle cx="441.3" cy="1556.3" r="3.5"/><circle cx="474.8" cy="1555.1" r="3.5"/><circle cx="495.8" cy="1547" r="3.5"/><circle cx="516.3" cy="1549.4" r="3.5"/><circle cx="540.7" cy="1555.2" r="3.5"/><circle cx="561.3" cy="1563.2" r="3.5"/><circle cx="528.9" cy="1577.2" r="3.5"/><circle cx="545.2" cy="1577.2" r="3.5"/><circle cx="519.7" cy="1590.9" r="3.5"/><circle cx="574" cy="1496.1" r="3.5"/><circle cx="578.5" cy="1566.8" r="3.5"/><circle cx="582.3" cy="1565.8" r="3.5"/><circle cx="591.5" cy="1572.5" r="3.5"/><circle cx="586.6" cy="1581.8" r="3.5"/></g>
<g font-size="20.0" text-anchor="end" fill="#111">
<text transform="translate(89.5 1618.1) scale(1.065 1)">400</text>
<text transform="translate(89.5 1584.2) scale(1.065 1)">600</text>
<text transform="translate(89.5 1550.58) scale(1.065 1)">800</text>
<text transform="translate(89.5 1516.95) scale(1.065 1)">1,000</text>
<text transform="translate(89.5 1483.33) scale(1.065 1)">1,200</text>
<text transform="translate(89.5 1449.7) scale(1.065 1)">1,400</text>
<text transform="translate(89.5 1416.08) scale(1.065 1)">1,600</text>
<text transform="translate(89.5 1382.45) scale(1.065 1)">1,800</text>
<text transform="translate(89.5 1348.83) scale(1.065 1)">2,000</text>
<text transform="translate(89.5 1315.2) scale(1.065 1)">2,200</text>
<text transform="translate(89.5 1281.58) scale(1.065 1)">2,400</text>
<text transform="translate(89.5 1247.95) scale(1.065 1)">2,600</text>
<text transform="translate(89.5 1214.33) scale(1.065 1)">2,800</text>
<text transform="translate(89.5 1180.7) scale(1.065 1)">3,000</text>
</g>
<g font-size="22.8" text-anchor="middle" fill="#111">
<text transform="translate(98.4 1639.1) scale(1.045 1)">1900</text>
<text transform="translate(181.76 1639.1) scale(1.045 1)">1920</text>
<text transform="translate(265.11 1639.1) scale(1.045 1)">1940</text>
<text transform="translate(348.47 1639.1) scale(1.045 1)">1960</text>
<text transform="translate(431.83 1639.1) scale(1.045 1)">1980</text>
<text transform="translate(515.19 1639.1) scale(1.045 1)">2000</text>
<text transform="translate(598.54 1639.1) scale(1.045 1)">2020</text>
<text transform="translate(681.9 1639.1) scale(1.045 1)">2040</text>
</g>
<text x="390" y="1677.8" font-size="27.3" text-anchor="middle" fill="#111">Year</text>
<text transform="translate(20.3 1388.65) rotate(-90) scale(1.054 1)" font-size="25.9" text-anchor="middle" fill="#111">Cumulative annual rainfall (mm)</text>
<text transform="translate(-0.4 1177.7) scale(1.06 1)" font-size="23" font-weight="bold" fill="#111" style="stroke-width:.2px">(c)</text>
<rect x="385.8" y="1184.0" width="280.8" height="58" fill="#fff" stroke="#2a2a2a" stroke-width="1.5"/>
<g font-size="19.8" fill="#111">
<text transform="translate(396.61 1205.6) scale(0.9 1)" font-style="italic">y</text>
<text transform="translate(412.16 1205.6) scale(1.075 1)">=</text>
<text transform="translate(429.25 1205.6) scale(1.075 1)">5881.77</text>
<text transform="translate(511.95 1205.6) scale(1.075 1)">-</text>
<text transform="translate(523.23 1205.6) scale(1.075 1)">2.47</text>
<text transform="translate(565.09 1200.94) scale(1.075 1)" font-size="12.28">*</text>
<text transform="translate(571.75 1205.6) scale(1.075 1)" font-style="italic">x</text>
<text transform="translate(581.39 1205.6) scale(1.075 1)">;</text>
<text transform="translate(395.25 1232.7) scale(1.075 1)" font-style="italic">r</text>
<text transform="translate(407.96 1232.7) scale(1.075 1)">=</text>
<text transform="translate(425.66 1232.7) scale(1.075 1)" font-weight="bold">–</text>
<text transform="translate(440.56 1232.7) scale(1.075 1)">.33;</text>
<text transform="translate(478.63 1232.7) scale(1.075 1)" font-style="italic">p</text>
<text transform="translate(494.86 1232.7) scale(1.075 1)">=</text>
<text transform="translate(511.76 1232.7) scale(1.075 1)">.001;</text>
<text transform="translate(562.75 1232.7) scale(1.075 1)" font-style="italic">r</text>
<text transform="translate(570.04 1224.98) scale(1.075 1)" font-size="15.84">2</text>
<text transform="translate(584.66 1232.7) scale(1.075 1)">=</text>
<text transform="translate(600.66 1232.7) scale(1.075 1)">.11</text>
</g>
</g>
</svg>
</body></html>
